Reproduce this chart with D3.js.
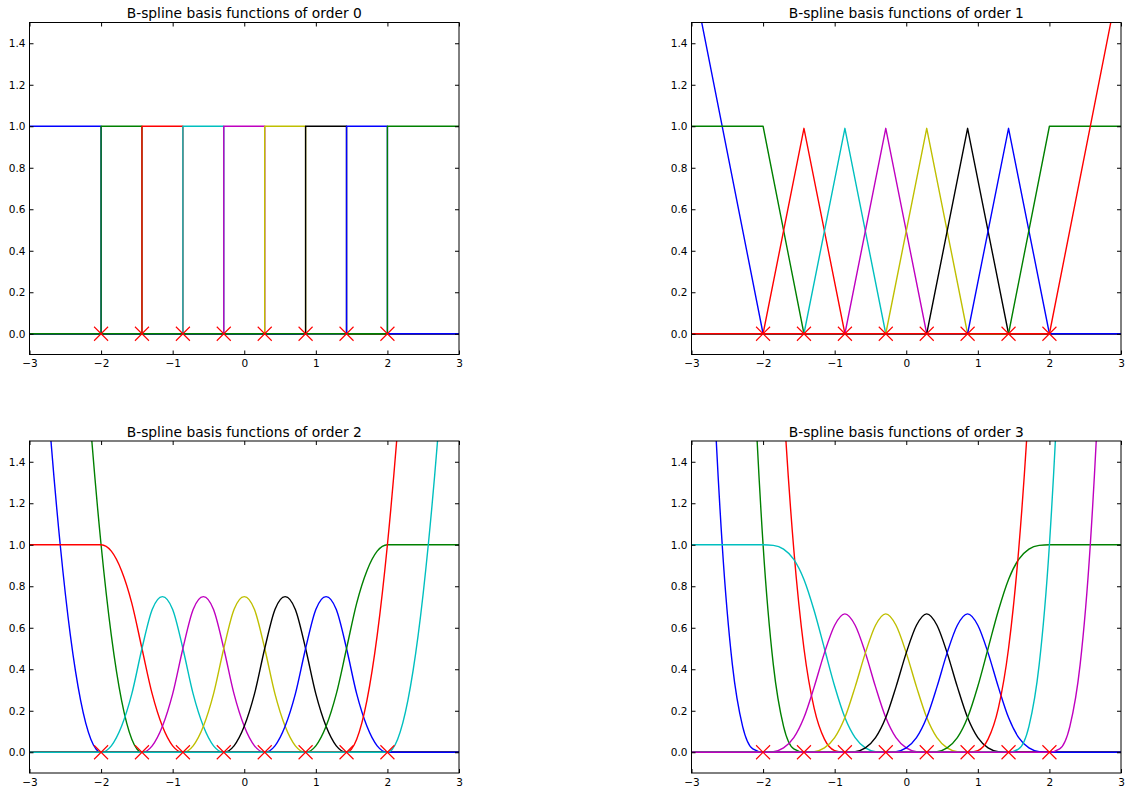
<html>
<head>
    <meta charset="utf-8">
    <title>B-spline basis functions</title>
</head>
<body style="margin: 0; background: #fff;">
    <svg></svg>
</body>

<script src="https://cdn.jsdelivr.net/npm/d3@7"></script>
<script>
const width = 1127;
const height = 792;

// knots where the red x markers sit
const knots = [-2, -1.429, -0.857, -0.286, 0.286, 0.857, 1.429, 2];

// sample positions: breakpoints for order 0/1, a 1/7 grid for order 2/3
const xCoarse = [-3, -2, -1.429, -0.857, -0.286, 0.286, 0.857, 1.429, 2, 3];
const xFine = [
    -3, -2.857, -2.714, -2.571, -2.429, -2.286, -2.143,
    -2, -1.857, -1.714, -1.571, -1.429, -1.286, -1.143,
    -1, -0.857, -0.714, -0.571, -0.429, -0.286, -0.143,
    0, 0.143, 0.286, 0.429, 0.571, 0.714, 0.857,
    1, 1.143, 1.286, 1.429, 1.571, 1.714, 1.857,
    2, 2.143, 2.286, 2.429, 2.571, 2.714, 2.857,
    3
];

const xTicks = [-3, -2, -1, 0, 1, 2, 3];
const yTicks = [0, 0.2, 0.4, 0.6, 0.8, 1.0, 1.2, 1.4];
const colorCycle = ["#0000ff", "#008000", "#ff0000", "#00bfbf", "#bf00bf", "#bfbf00", "#000000"];

// order 0, step values on xCoarse
const order0 = [
    [1, 0, 0, 0, 0, 0, 0, 0, 0, 0],
    [0, 1, 0, 0, 0, 0, 0, 0, 0, 0],
    [0, 0, 1, 0, 0, 0, 0, 0, 0, 0],
    [0, 0, 0, 1, 0, 0, 0, 0, 0, 0],
    [0, 0, 0, 0, 1, 0, 0, 0, 0, 0],
    [0, 0, 0, 0, 0, 1, 0, 0, 0, 0],
    [0, 0, 0, 0, 0, 0, 1, 0, 0, 0],
    [0, 0, 0, 0, 0, 0, 0, 1, 0, 0],
    [0, 0, 0, 0, 0, 0, 0, 0, 1, 1]
];

// order 1, values on xCoarse
const order1 = [
    [1.75, 0, 0, 0, 0, 0, 0, 0, 0, 0],
    [1, 1, 0, 0, 0, 0, 0, 0, 0, 0],
    [0, 0, 0.99, 0, 0, 0, 0, 0, 0, 0],
    [0, 0, 0, 0.99, 0, 0, 0, 0, 0, 0],
    [0, 0, 0, 0, 0.99, 0, 0, 0, 0, 0],
    [0, 0, 0, 0, 0, 0.99, 0, 0, 0, 0],
    [0, 0, 0, 0, 0, 0, 0.99, 0, 0, 0],
    [0, 0, 0, 0, 0, 0, 0, 0.99, 0, 0],
    [0, 0, 0, 0, 0, 0, 0, 0, 1, 1],
    [0, 0, 0, 0, 0, 0, 0, 0, 0, 1.75]
];

// order 2, values on xFine
const order2 = [
    [3.06, 2.25, 1.56, 1, 0.563, 0.25, 0.063,
     0, 0, 0, 0, 0, 0, 0,
     0, 0, 0, 0, 0, 0, 0,
     0, 0, 0, 0, 0, 0, 0,
     0, 0, 0, 0, 0, 0, 0,
     0, 0, 0, 0, 0, 0, 0,
     0],
    [7.56, 6.25, 5.06, 4, 3.06, 2.25, 1.56,
     1, 0.563, 0.25, 0.063, 0, 0, 0,
     0, 0, 0, 0, 0, 0, 0,
     0, 0, 0, 0, 0, 0, 0,
     0, 0, 0, 0, 0, 0, 0,
     0, 0, 0, 0, 0, 0, 0,
     0],
    [1, 1, 1, 1, 1, 1, 1,
     1, 0.969, 0.875, 0.719, 0.5, 0.281, 0.125,
     0.031, 0, 0, 0, 0, 0, 0,
     0, 0, 0, 0, 0, 0, 0,
     0, 0, 0, 0, 0, 0, 0,
     0, 0, 0, 0, 0, 0, 0,
     0],
    [0, 0, 0, 0, 0, 0, 0,
     0, 0.031, 0.125, 0.281, 0.5, 0.688, 0.75,
     0.688, 0.5, 0.281, 0.125, 0.031, 0, 0,
     0, 0, 0, 0, 0, 0, 0,
     0, 0, 0, 0, 0, 0, 0,
     0, 0, 0, 0, 0, 0, 0,
     0],
    [0, 0, 0, 0, 0, 0, 0,
     0, 0, 0, 0, 0, 0.031, 0.125,
     0.281, 0.5, 0.688, 0.75, 0.688, 0.5, 0.281,
     0.125, 0.031, 0, 0, 0, 0, 0,
     0, 0, 0, 0, 0, 0, 0,
     0, 0, 0, 0, 0, 0, 0,
     0],
    [0, 0, 0, 0, 0, 0, 0,
     0, 0, 0, 0, 0, 0, 0,
     0, 0, 0.031, 0.125, 0.281, 0.5, 0.688,
     0.75, 0.688, 0.5, 0.281, 0.125, 0.031, 0,
     0, 0, 0, 0, 0, 0, 0,
     0, 0, 0, 0, 0, 0, 0,
     0],
    [0, 0, 0, 0, 0, 0, 0,
     0, 0, 0, 0, 0, 0, 0,
     0, 0, 0, 0, 0, 0, 0.031,
     0.125, 0.281, 0.5, 0.688, 0.75, 0.688, 0.5,
     0.281, 0.125, 0.031, 0, 0, 0, 0,
     0, 0, 0, 0, 0, 0, 0,
     0],
    [0, 0, 0, 0, 0, 0, 0,
     0, 0, 0, 0, 0, 0, 0,
     0, 0, 0, 0, 0, 0, 0,
     0, 0, 0, 0.031, 0.125, 0.281, 0.5,
     0.688, 0.75, 0.688, 0.5, 0.281, 0.125, 0.031,
     0, 0, 0, 0, 0, 0, 0,
     0],
    [0, 0, 0, 0, 0, 0, 0,
     0, 0, 0, 0, 0, 0, 0,
     0, 0, 0, 0, 0, 0, 0,
     0, 0, 0, 0, 0, 0, 0,
     0.031, 0.125, 0.281, 0.5, 0.719, 0.875, 0.969,
     1, 1, 1, 1, 1, 1, 1,
     1],
    [0, 0, 0, 0, 0, 0, 0,
     0, 0, 0, 0, 0, 0, 0,
     0, 0, 0, 0, 0, 0, 0,
     0, 0, 0, 0, 0, 0, 0,
     0, 0, 0, 0, 0.063, 0.25, 0.563,
     1, 1.56, 2.25, 3.06, 4, 5.06, 6.25,
     7.56],
    [0, 0, 0, 0, 0, 0, 0,
     0, 0, 0, 0, 0, 0, 0,
     0, 0, 0, 0, 0, 0, 0,
     0, 0, 0, 0, 0, 0, 0,
     0, 0, 0, 0, 0, 0, 0,
     0, 0.063, 0.25, 0.563, 1, 1.56, 2.25,
     3.06]
];

// order 3, values on xFine
const order3 = [
    [5.36, 3.38, 1.95, 1, 0.422, 0.125, 0.016,
     0, 0, 0, 0, 0, 0, 0,
     0, 0, 0, 0, 0, 0, 0,
     0, 0, 0, 0, 0, 0, 0,
     0, 0, 0, 0, 0, 0, 0,
     0, 0, 0, 0, 0, 0, 0,
     0],
    [20.8, 15.6, 11.4, 8, 5.36, 3.38, 1.95,
     1, 0.422, 0.125, 0.016, 0, 0, 0,
     0, 0, 0, 0, 0, 0, 0,
     0, 0, 0, 0, 0, 0, 0,
     0, 0, 0, 0, 0, 0, 0,
     0, 0, 0, 0, 0, 0, 0,
     0],
    [26.4, 21.4, 17.2, 13.5, 10.4, 7.8, 5.7,
     4, 2.68, 1.69, 0.977, 0.5, 0.211, 0.063,
     0.008, 0, 0, 0, 0, 0, 0,
     0, 0, 0, 0, 0, 0, 0,
     0, 0, 0, 0, 0, 0, 0,
     0, 0, 0, 0, 0, 0, 0,
     0],
    [1, 1, 1, 1, 1, 1, 1,
     1, 0.997, 0.979, 0.93, 0.833, 0.682, 0.5,
     0.318, 0.167, 0.07, 0.021, 0.003, 0, 0,
     0, 0, 0, 0, 0, 0, 0,
     0, 0, 0, 0, 0, 0, 0,
     0, 0, 0, 0, 0, 0, 0,
     0],
    [0, 0, 0, 0, 0, 0, 0,
     0, 0.003, 0.021, 0.07, 0.167, 0.315, 0.479,
     0.612, 0.667, 0.612, 0.479, 0.315, 0.167, 0.07,
     0.021, 0.003, 0, 0, 0, 0, 0,
     0, 0, 0, 0, 0, 0, 0,
     0, 0, 0, 0, 0, 0, 0,
     0],
    [0, 0, 0, 0, 0, 0, 0,
     0, 0, 0, 0, 0, 0.003, 0.021,
     0.07, 0.167, 0.315, 0.479, 0.612, 0.667, 0.612,
     0.479, 0.315, 0.167, 0.07, 0.021, 0.003, 0,
     0, 0, 0, 0, 0, 0, 0,
     0, 0, 0, 0, 0, 0, 0,
     0],
    [0, 0, 0, 0, 0, 0, 0,
     0, 0, 0, 0, 0, 0, 0,
     0, 0, 0.003, 0.021, 0.07, 0.167, 0.315,
     0.479, 0.612, 0.667, 0.612, 0.479, 0.315, 0.167,
     0.07, 0.021, 0.003, 0, 0, 0, 0,
     0, 0, 0, 0, 0, 0, 0,
     0],
    [0, 0, 0, 0, 0, 0, 0,
     0, 0, 0, 0, 0, 0, 0,
     0, 0, 0, 0, 0, 0, 0.003,
     0.021, 0.07, 0.167, 0.315, 0.479, 0.612, 0.667,
     0.612, 0.479, 0.315, 0.167, 0.07, 0.021, 0.003,
     0, 0, 0, 0, 0, 0, 0,
     0],
    [0, 0, 0, 0, 0, 0, 0,
     0, 0, 0, 0, 0, 0, 0,
     0, 0, 0, 0, 0, 0, 0,
     0, 0, 0, 0.003, 0.021, 0.07, 0.167,
     0.318, 0.5, 0.682, 0.833, 0.93, 0.979, 0.997,
     1, 1, 1, 1, 1, 1, 1,
     1],
    [0, 0, 0, 0, 0, 0, 0,
     0, 0, 0, 0, 0, 0, 0,
     0, 0, 0, 0, 0, 0, 0,
     0, 0, 0, 0, 0, 0, 0,
     0.008, 0.063, 0.211, 0.5, 0.977, 1.69, 2.68,
     4, 5.7, 7.8, 10.4, 13.5, 17.2, 21.4,
     26.4],
    [0, 0, 0, 0, 0, 0, 0,
     0, 0, 0, 0, 0, 0, 0,
     0, 0, 0, 0, 0, 0, 0,
     0, 0, 0, 0, 0, 0, 0,
     0, 0, 0, 0, 0.016, 0.125, 0.422,
     1, 1.95, 3.38, 5.36, 8, 11.4, 15.6,
     20.8],
    [0, 0, 0, 0, 0, 0, 0,
     0, 0, 0, 0, 0, 0, 0,
     0, 0, 0, 0, 0, 0, 0,
     0, 0, 0, 0, 0, 0, 0,
     0, 0, 0, 0, 0, 0, 0,
     0, 0.016, 0.125, 0.422, 1, 1.95, 3.38,
     5.36]
];

const panels = [
    {order: 0, left: 29.5, top: 22.5, xs: xCoarse, ys: order0, curve: d3.curveStepAfter},
    {order: 1, left: 691.5, top: 22.5, xs: xCoarse, ys: order1, curve: d3.curveLinear},
    {order: 2, left: 29.5, top: 441, xs: xFine, ys: order2, curve: d3.curveMonotoneX},
    {order: 3, left: 691.5, top: 441, xs: xFine, ys: order3, curve: d3.curveMonotoneX},
];
const pw = 429.5;
const ph = 332;

panels.forEach(p => p.ys.forEach((s, i) => {
    if (s.length !== p.xs.length) throw new Error(`order ${p.order} curve ${i}: ${s.length}`);
}));

const svg = d3.select("svg")
    .attr("width", width)
    .attr("height", height)
    .style("font-family", "'DejaVu Sans', sans-serif");

panels.forEach((p, pi) => {
    const x = d3.scaleLinear().domain([-3, 3]).range([p.left, p.left + pw]);
    const y = d3.scaleLinear().domain([-0.1, 1.5]).range([p.top + ph, p.top]);

    svg.append("clipPath")
        .attr("id", `clip${pi}`)
        .append("rect")
            .attr("x", p.left)
            .attr("y", p.top)
            .attr("width", pw)
            .attr("height", ph);

    const line = d3.line()
        .x((d, i) => x(p.xs[i]))
        .y(d => y(d))
        .curve(p.curve);

    svg.append("g")
        .attr("clip-path", `url(#clip${pi})`)
        .attr("fill", "none")
        .attr("stroke-width", 1.4)
        .attr("stroke-linejoin", "round")
        .selectAll("path")
        .data(p.ys)
        .join("path")
            .attr("stroke", (d, i) => colorCycle[i % colorCycle.length])
            .attr("d", line);

    // knot markers
    svg.append("g")
        .attr("stroke", "#ff0000")
        .attr("stroke-width", 1.1)
        .selectAll("path")
        .data(knots)
        .join("path")
            .attr("d", k => {
                const cx = x(k), cy = y(0), r = 7;
                return `M${cx - r},${cy - r}L${cx + r},${cy + r}M${cx - r},${cy + r}L${cx + r},${cy - r}`;
            });

    // axes, ticks pointing inwards on every side
    const styleAxis = g => {
        g.select(".domain").remove();
        g.selectAll(".tick line").attr("stroke", "#000");
        g.selectAll(".tick text")
            .attr("fill", "#000")
            .style("font-family", "'DejaVu Sans', sans-serif")
            .style("font-size", "10.5px");
    };

    svg.append("g")
        .attr("transform", `translate(0,${p.top + ph})`)
        .call(d3.axisBottom(x).tickValues(xTicks).tickSize(-4).tickPadding(5.3).tickFormat(d3.format("d")))
        .call(styleAxis);
    svg.append("g")
        .attr("transform", `translate(0,${p.top})`)
        .call(d3.axisTop(x).tickValues(xTicks).tickSize(-4).tickFormat(""))
        .call(styleAxis);
    svg.append("g")
        .attr("transform", `translate(${p.left},0)`)
        .call(d3.axisLeft(y).tickValues(yTicks).tickSize(-4).tickPadding(4).tickFormat(d3.format(".1f")))
        .call(styleAxis);
    svg.append("g")
        .attr("transform", `translate(${p.left + pw},0)`)
        .call(d3.axisRight(y).tickValues(yTicks).tickSize(-4).tickFormat(""))
        .call(styleAxis);

    svg.append("rect")
        .attr("x", p.left)
        .attr("y", p.top)
        .attr("width", pw)
        .attr("height", ph)
        .attr("fill", "none")
        .attr("stroke", "#000")
        .attr("stroke-width", 1);

    svg.append("text")
        .attr("x", p.left + pw / 2)
        .attr("y", p.top - 4.5)
        .attr("text-anchor", "middle")
        .style("font-size", "13.8px")
        .text(`B-spline basis functions of order ${p.order}`);
});
</script>
</html>
